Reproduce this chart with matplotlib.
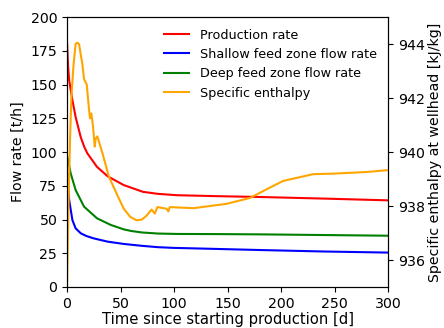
import matplotlib
matplotlib.use("Agg")
import matplotlib.pyplot as plt

# Production rate [t/h]
prod_t = [0, 1, 2, 5, 8, 12.8, 16, 19, 28, 38, 53, 71, 85, 103, 140, 180, 240, 300]
prod_q = [181, 163, 153, 138.5, 126, 111, 104, 99, 89, 82, 75.5, 70.5, 69, 68, 67.3, 66.7, 65.5, 64.2]

# Shallow feed zone flow rate [t/h]
shallow_t = [0, 1, 2, 5, 8, 12.8, 18, 25, 38, 53, 70, 85, 99, 140, 180, 240, 300]
shallow_q = [88, 74, 64.4, 49.6, 43.5, 39.8, 37.8, 36, 33.6, 31.9, 30.5, 29.5, 29, 28.2, 27.4, 26.3, 25.5]

# Deep feed zone flow rate [t/h]
deep_t = [0, 1, 3.4, 8, 15.9, 28, 40.8, 53, 60, 70, 85, 103, 140, 180, 240, 300]
deep_q = [97, 94, 84.2, 71.9, 59.5, 50.9, 46, 42.7, 41.5, 40.4, 39.6, 39.3, 39.2, 39, 38.5, 38]

# Specific enthalpy at wellhead [kJ/kg]
enth_t = [0, 1.5, 2.8, 4, 6, 8, 9.5, 11.2, 14.3, 15.9, 18.4, 20.6, 21.5, 22.7, 24.3, 25.9, 26.8, 28.3,
          33, 39, 47, 53, 59, 65, 70, 74.5, 79, 82, 84.4, 93, 94.7, 96, 118, 149, 171, 187, 202,
          230, 249, 280, 300]
enth_h = [935, 938.3, 940.45, 942.0, 943.2, 944.0, 944.05, 944.0, 943.26, 942.7, 942.5, 941.55, 941.25,
          941.43, 940.94, 940.2, 940.5, 940.58, 939.97, 939.1, 938.4, 937.9, 937.6, 937.47, 937.5,
          937.65, 937.87, 937.72, 937.96, 937.9, 937.8, 937.96, 937.92, 938.08, 938.3, 938.63,
          938.93, 939.18, 939.2, 939.26, 939.33]

fs = 10.2

fig, ax = plt.subplots(figsize=(4.44, 3.28), dpi=100)
fig.subplots_adjust(left=0.151, right=0.874, bottom=0.125, top=0.948)

l1, = ax.plot(prod_t, prod_q, color='red', label='Production rate')
l2, = ax.plot(shallow_t, shallow_q, color='blue', label='Shallow feed zone flow rate')
l3, = ax.plot(deep_t, deep_q, color='green', label='Deep feed zone flow rate')
ax.set_xlim(0, 300)
ax.set_ylim(0, 200)
ax.tick_params(labelsize=fs)
ax.set_xlabel('Time since starting production [d]', fontsize=fs + 0.4, labelpad=1)
ax.set_ylabel('Flow rate [t/h]', fontsize=fs)

ax2 = ax.twinx()
l4, = ax2.plot(enth_t, enth_h, color='orange', label='Specific enthalpy')
ax2.set_ylim(935, 945)
ax2.set_yticks([936, 938, 940, 942, 944])
ax2.tick_params(labelsize=fs)
ax2.set_ylabel('Specific enthalpy at wellhead [kJ/kg]', fontsize=fs, labelpad=2)

ax2.legend(handles=[l1, l2, l3, l4], loc='upper right', frameon=False, fontsize=9.2)

plt.savefig('out.png', dpi=100)
